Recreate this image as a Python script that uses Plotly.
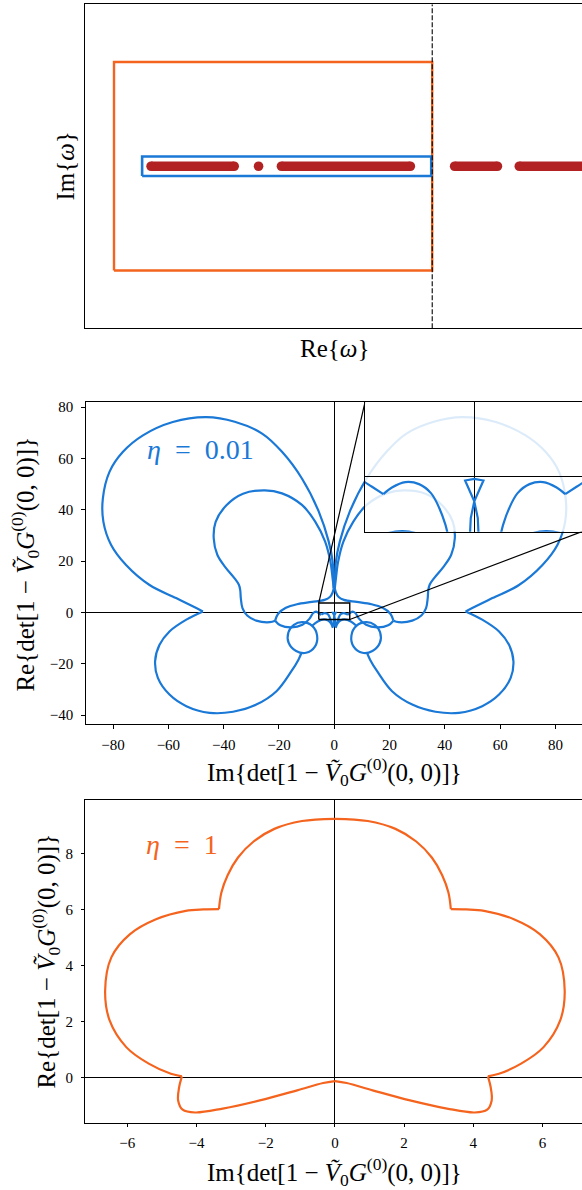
import plotly.graph_objects as go

BLUE = "#1A78D6"
ORANGE = "#F4641E"
RED = "#B22222"
FONT = "Liberation Serif"

# ---------------- Panel 1 : complex omega plane (arbitrary units) ----------------
P1_XLIM = [0, 99.8]
P1_YLIM = [0, 100]
ORANGE_CONTOUR_X = [5.75, 69.7, 69.7, 5.75, 5.75]
ORANGE_CONTOUR_Y = [17.8, 17.8, 82.2, 82.2, 17.8]
BLUE_CONTOUR_X = [11.4, 69.5, 69.5, 11.4, 11.4]
BLUE_CONTOUR_Y = [47.0, 47.0, 53.0, 53.0, 47.0]
POLE_SEG_START = [13.2, 39.4, 74.2, 87.2]
POLE_SEG_END = [29.9, 65.3, 82.8, 104.0]
POLE_DOT_X = [34.8]
POLE_Y = 50.0
CUT_X = 69.7

# ---------------- Panel 2 : eta = 0.01 (left / right halves) ----------------
P2_XLIM = [-89.9, 89.6]
P2_YLIM = [-43.65, 81.9]
P2_XTICKS = [-80, -60, -40, -20, 0, 20, 40, 60, 80]
P2_YTICKS = [-40, -20, 0, 20, 40, 60, 80]

STEM_LOBE_L_X = [-0.2, -0.6, -2.0, -5.6, -11.7, -18.9, -26.1, -36.0, -46.3, -58.4, -69.2,
                 -76.5, -81.3, -83.7, -83.5, -80.7, -75.3, -66.8, -57.2, -49.9, -47.5]
STEM_LOBE_R_X = [0.2, 0.6, 2.0, 5.6, 11.7, 18.9, 26.1, 36.0, 46.3, 58.4, 69.2,
                 76.5, 81.3, 83.7, 83.5, 80.7, 75.3, 66.8, 57.2, 49.9, 47.5]
STEM_LOBE_Y = [9.5, 19.8, 27.6, 39.3, 52.2, 62.6, 69.7, 74.3, 76.1, 74.2, 69.0,
               62.5, 54.8, 44.4, 35.3, 26.3, 18.5, 10.7, 5.6, 1.7, 0.4]

LOWER_L_X = [-47.5, -53.5, -59.6, -63.2, -64.8, -63.8, -59.6, -53.5, -45.1, -36.6, -28.2,
             -20.9, -15.5, -13.0, -11.8]
LOWER_R_X = [47.5, 53.5, 59.6, 63.2, 64.8, 63.8, 59.6, 53.5, 45.1, 36.6, 28.2,
             20.9, 15.5, 13.0, 11.8]
LOWER_Y = [0.4, -2.8, -7.4, -12.6, -19.0, -25.5, -32.0, -36.5, -39.1, -38.7, -35.9,
           -30.7, -22.9, -18.5, -15.6]

INNER_L_X = [-0.2, -0.6, -1.4, -3.3, -6.9, -11.7, -18.9, -25.1, -33.0, -39.0, -42.9, -43.6,
             -42.3, -39.5, -36.2, -34.5, -34.0, -33.8, -33.2, -31.5, -28.2, -23.3, -21.4]
INNER_R_X = [0.2, 0.6, 1.4, 3.3, 6.9, 11.7, 18.9, 25.1, 33.0, 39.0, 42.9, 43.6,
             42.3, 39.5, 36.2, 34.5, 34.0, 33.8, 33.2, 31.5, 28.2, 23.3, 21.4]
INNER_Y = [9.5, 13.3, 19.8, 27.6, 35.4, 41.9, 46.4, 47.6, 46.3, 41.8, 35.3, 28.9,
           22.5, 17.8, 13.5, 10.8, 8.6, 5.6, 1.7, -1.2, -3.2, -3.8, -3.2]

FLARE_L_X = [-0.2, -0.6, -1.6, -3.5, -8.1, -13.5, -17.5, -20.3, -21.4]
FLARE_R_X = [0.2, 0.6, 1.6, 3.5, 8.1, 13.5, 17.5, 20.3, 21.4]
FLARE_Y = [9.5, 7.8, 6.0, 4.9, 4.1, 3.2, 1.8, -0.5, -3.2]

LOOP1_L_X = [-21.4, -19.5, -15.5, -11.5, -9.0, -7.6, -6.6, -5.79, -5.26, -4.66]
LOOP1_R_X = [21.4, 19.5, 15.5, 11.5, 9.0, 7.6, 6.6, 5.79, 5.26, 4.66]
LOOP1_Y = [-3.2, -5.0, -5.8, -4.8, -2.5, -0.2, 0.3, -0.17, -0.5, -0.88]

BUMP_L_X = [-4.66, -4.22, -3.53, -2.83, -2.22, -1.79, -1.48, -1.3, -1.0, -0.5, 0.0]
BUMP_R_X = [4.66, 4.22, 3.53, 2.83, 2.22, 1.79, 1.48, 1.3, 1.0, 0.5, 0.0]
BUMP_Y = [-0.88, -0.55, -0.28, -0.38, -0.83, -1.58, -2.40, -3.1, -4.0, -4.8, -5.1]

LOOP2_L_X = [-11.5, -8.0, -6.2, -7.0, -10.2, -13.8, -16.5, -16.6, -14.6, -11.5]
LOOP2_R_X = [11.5, 8.0, 6.2, 7.0, 10.2, 13.8, 16.5, 16.6, 14.6, 11.5]
LOOP2_Y = [-3.8, -5.2, -9.0, -13.3, -15.7, -15.0, -11.8, -7.8, -4.8, -3.8]

LINK_L_X = [-8.0, -6.0, -3.7, -2.2, -1.2, -0.5]
LINK_R_X = [8.0, 6.0, 3.7, 2.2, 1.2, 0.5]
LINK_Y = [-5.2, -3.5, -2.72, -3.2, -4.3, -6.0]

BOWTIE_X = [-0.35, -0.22, -0.18, 0.0, 0.47, 0.0, -0.47, 0.0, 0.18, 0.22, 0.35]
BOWTIE_Y = [-5.5, -2.9, -2.07, -1.24, -0.2, -0.12, -0.2, -1.24, -2.07, -2.9, -5.5]

# zoom window (inset) and the inset's corners expressed in main-axis units
INSET_XLIM = [-5.6, 5.6]
INSET_YLIM = [-2.75, 3.7]
INSET_VIEW_X = [-5.6, 5.52]
INSET_TL_MAIN = [11.1, 81.9]
INSET_BR_MAIN = [89.6, 31.5]

# ---------------- Panel 3 : eta = 1 ----------------
P3_XLIM = [-7.21, 7.14]
P3_YLIM = [-1.61, 9.9]
P3_XTICKS = [-6, -4, -2, 0, 2, 4, 6]
P3_YTICKS = [0, 2, 4, 6, 8]
P3_TOP_L_X = [0.0, -0.95, -1.75, -2.35, -2.8, -3.1, -3.28, -3.35]
P3_TOP_R_X = [0.0, 0.95, 1.75, 2.35, 2.8, 3.1, 3.28, 3.35]
P3_TOP_Y = [9.23, 9.15, 8.87, 8.42, 7.85, 7.22, 6.6, 6.01]
P3_SIDE_L_X = [-3.35, -3.8, -4.31, -5.17, -5.92, -6.46, -6.64, -6.51, -6.03, -5.38, -4.74, -4.42]
P3_SIDE_R_X = [3.35, 3.8, 4.31, 5.17, 5.92, 6.46, 6.64, 6.51, 6.03, 5.38, 4.74, 4.42]
P3_SIDE_Y = [6.01, 6.0, 5.95, 5.65, 5.12, 4.29, 3.1, 2.04, 1.09, 0.5, 0.14, 0.05]
P3_BOT_L_X = [-4.42, -4.5, -4.53, -4.4, -4.04, -3.24, -2.17, -1.09, -0.34, 0.0]
P3_BOT_R_X = [4.42, 4.5, 4.53, 4.4, 4.04, 3.24, 2.17, 1.09, 0.34, 0.0]
P3_BOT_Y = [0.05, -0.33, -0.81, -1.14, -1.24, -1.1, -0.81, -0.45, -0.19, -0.12]

RE_OMEGA = "Re{<i>ω</i>}"
IM_OMEGA = "Im{<i>ω</i>}"
DET = "det[1 − <i>Ṽ</i><sub>0</sub><i>G</i><sup>(0)</sup>(0, 0)]"
IM_DET = "Im{" + DET + "}"
RE_DET = "Re{" + DET + "}"
ETA_SMALL = "<i>η</i>\u2002=\u20020.01"
ETA_ONE = "<i>η</i>\u2002=\u20021"


def strokes(*pairs):
    xs, ys = [], []
    for x, y in pairs:
        xs += list(x) + [None]
        ys += list(y) + [None]
    return xs, ys


fig = go.Figure()

# ---- panel 1 ----
fig.add_trace(go.Scatter(x=ORANGE_CONTOUR_X, y=ORANGE_CONTOUR_Y, mode="lines",
                         line=dict(color=ORANGE, width=2.4), xaxis="x", yaxis="y"))
fig.add_trace(go.Scatter(x=BLUE_CONTOUR_X, y=BLUE_CONTOUR_Y, mode="lines",
                         line=dict(color=BLUE, width=2.6), xaxis="x", yaxis="y"))
seg_x, seg_y = [], []
for s, e in zip(POLE_SEG_START, POLE_SEG_END):
    seg_x += [s, e, None]
    seg_y += [POLE_Y, POLE_Y, None]
fig.add_trace(go.Scatter(x=seg_x, y=seg_y, mode="lines", line=dict(color=RED, width=9.4),
                         xaxis="x", yaxis="y"))
cap_x = POLE_SEG_START + POLE_SEG_END + POLE_DOT_X
fig.add_trace(go.Scatter(x=cap_x, y=[POLE_Y] * len(cap_x), mode="markers",
                         marker=dict(color=RED, size=9.6, line=dict(width=0)),
                         xaxis="x", yaxis="y", cliponaxis=True))
fig.add_trace(go.Scatter(x=[CUT_X, CUT_X], y=P1_YLIM, mode="lines",
                         line=dict(color="black", width=1.1, dash="5px,2px"),
                         xaxis="x", yaxis="y"))

# ---- panel 2 (main + inset) ----
p2x, p2y = strokes(
    (STEM_LOBE_L_X, STEM_LOBE_Y), (STEM_LOBE_R_X, STEM_LOBE_Y),
    (LOWER_L_X, LOWER_Y), (LOWER_R_X, LOWER_Y),
    (INNER_L_X, INNER_Y), (INNER_R_X, INNER_Y),
    (FLARE_L_X, FLARE_Y), (FLARE_R_X, FLARE_Y),
    (LOOP1_L_X, LOOP1_Y), (LOOP1_R_X, LOOP1_Y),
    (BUMP_L_X, BUMP_Y), (BUMP_R_X, BUMP_Y),
    (LOOP2_L_X, LOOP2_Y), (LOOP2_R_X, LOOP2_Y),
    (LINK_L_X, LINK_Y), (LINK_R_X, LINK_Y),
)
for xa, ya in (("x2", "y2"), ("x4", "y4")):
    fig.add_trace(go.Scatter(x=p2x, y=p2y, mode="lines",
                             line=dict(color=BLUE, width=2.2, shape="spline", smoothing=1.0),
                             xaxis=xa, yaxis=ya))
    fig.add_trace(go.Scatter(x=BOWTIE_X, y=BOWTIE_Y, mode="lines",
                             line=dict(color=BLUE, width=2.2),
                             xaxis=xa, yaxis=ya))

# zoom rectangle + connectors on the main axes
rx = [INSET_XLIM[0], INSET_XLIM[1], INSET_XLIM[1], INSET_XLIM[0], INSET_XLIM[0]]
ry = [INSET_YLIM[0], INSET_YLIM[0], INSET_YLIM[1], INSET_YLIM[1], INSET_YLIM[0]]
fig.add_trace(go.Scatter(x=rx, y=ry, mode="lines", line=dict(color="black", width=1.4),
                         xaxis="x2", yaxis="y2"))
fig.add_trace(go.Scatter(
    x=[INSET_XLIM[0], INSET_TL_MAIN[0], None, INSET_XLIM[1], INSET_BR_MAIN[0]],
    y=[INSET_YLIM[1], INSET_TL_MAIN[1], None, INSET_YLIM[0], INSET_BR_MAIN[1]],
    mode="lines", line=dict(color="black", width=1.2), xaxis="x2", yaxis="y2"))

# ---- panel 3 ----
p3x, p3y = strokes(
    (P3_TOP_L_X, P3_TOP_Y), (P3_TOP_R_X, P3_TOP_Y),
    (P3_SIDE_L_X, P3_SIDE_Y), (P3_SIDE_R_X, P3_SIDE_Y),
    (P3_BOT_L_X, P3_BOT_Y), (P3_BOT_R_X, P3_BOT_Y),
)
fig.add_trace(go.Scatter(x=p3x, y=p3y, mode="lines",
                         line=dict(color=ORANGE, width=2.2, shape="spline", smoothing=1.0),
                         xaxis="x3", yaxis="y3"))

tickfont = dict(family=FONT, size=15, color="black")
common = dict(showgrid=False, linecolor="black", linewidth=1, showline=True,
              tickfont=tickfont, tickcolor="black", tickwidth=1, ticklen=3.5)

H = 1190.0
W = 582.0


def ydom(top_px, bottom_px):
    return [1 - bottom_px / H, 1 - top_px / H]


fig.update_layout(
    width=582, height=1190, autosize=False,
    margin=dict(l=0, r=0, t=0, b=0, pad=0),
    paper_bgcolor="white",
    plot_bgcolor="rgba(255,255,255,0.85)",
    showlegend=False,
    font=dict(family=FONT, color="black"),
    xaxis=dict(domain=[85.4 / W, 1], range=P1_XLIM, anchor="y", mirror=True,
               showticklabels=False, ticks="", zeroline=False, **common),
    yaxis=dict(domain=ydom(1.3, 326), range=P1_YLIM, anchor="x", mirror=False,
               showticklabels=False, ticks="", zeroline=False, **common),
    xaxis2=dict(domain=[85.7 / W, 1], range=P2_XLIM, anchor="y2", mirror=True,
                tickvals=P2_XTICKS, ticks="outside", zeroline=True,
                zerolinecolor="black", zerolinewidth=1.3, ticklabelstandoff=3, **common),
    yaxis2=dict(domain=ydom(400.3, 723.3), range=P2_YLIM, anchor="x2", mirror=False,
                tickvals=P2_YTICKS, ticks="outside", zeroline=True,
                zerolinecolor="black", zerolinewidth=1.3, ticklabelstandoff=5, **common),
    xaxis3=dict(domain=[85.4 / W, 1], range=P3_XLIM, anchor="y3", mirror=True,
                tickvals=P3_XTICKS, ticks="outside", zeroline=True,
                zerolinecolor="black", zerolinewidth=1.3, ticklabelstandoff=3, **common),
    yaxis3=dict(domain=ydom(799, 1122.7), range=P3_YLIM, anchor="x3", mirror=False,
                tickvals=P3_YTICKS, ticks="outside", zeroline=True,
                zerolinecolor="black", zerolinewidth=1.3, ticklabelstandoff=5, **common),
    xaxis4=dict(domain=[365 / W, 1], range=INSET_VIEW_X, anchor="y4", mirror=True,
                showticklabels=False, ticks="", zeroline=True,
                zerolinecolor="black", zerolinewidth=1.3, **common),
    yaxis4=dict(domain=ydom(400.3, 530), range=INSET_YLIM, anchor="x4", mirror=False,
                showticklabels=False, ticks="", zeroline=True,
                zerolinecolor="black", zerolinewidth=1.3, **common),
)

title_font = dict(family=FONT, size=25, color="black")
annotations = [
    dict(text=RE_OMEGA, x=334 / W, y=1 - 346 / H, xref="paper", yref="paper",
         showarrow=False, font=title_font, xanchor="center", yanchor="middle"),
    dict(text=IM_OMEGA, x=66 / W, y=1 - 164 / H, xref="paper", yref="paper",
         showarrow=False, font=title_font, textangle=-90, xanchor="center", yanchor="middle"),
    dict(text=IM_DET, x=334 / W, y=1 - 771 / H, xref="paper", yref="paper",
         showarrow=False, font=title_font, xanchor="center", yanchor="middle"),
    dict(text=RE_DET, x=25 / W, y=1 - 563 / H, xref="paper", yref="paper",
         showarrow=False, font=title_font, textangle=-90, xanchor="center", yanchor="middle"),
    dict(text=IM_DET, x=334 / W, y=1 - 1172 / H, xref="paper", yref="paper",
         showarrow=False, font=title_font, xanchor="center", yanchor="middle"),
    dict(text=RE_DET, x=46 / W, y=1 - 961 / H, xref="paper", yref="paper",
         showarrow=False, font=title_font, textangle=-90, xanchor="center", yanchor="middle"),
    dict(text=ETA_SMALL, x=-68.5, y=63.6, xref="x2", yref="y2", showarrow=False,
         font=dict(family=FONT, size=28, color=BLUE), xanchor="left", yanchor="middle"),
    dict(text=ETA_ONE, x=-5.52, y=8.33, xref="x3", yref="y3", showarrow=False,
         font=dict(family=FONT, size=28, color=ORANGE), xanchor="left", yanchor="middle"),
]
fig.update_layout(annotations=annotations)

fig.write_html(
    "out.html",
    config={"displayModeBar": False},
    post_script="document.body.style.margin='0';document.body.style.padding='0';"
                "document.body.style.overflow='hidden';"
                "document.documentElement.style.overflow='hidden';",
)
